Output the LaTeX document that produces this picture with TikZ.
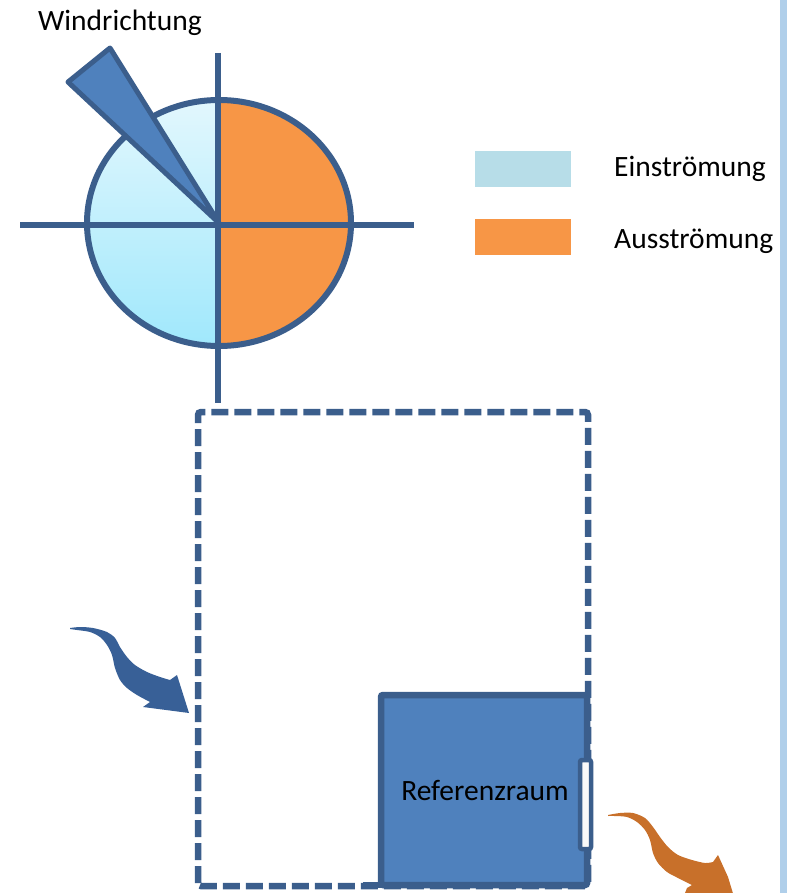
\documentclass[tikz,border=0pt]{standalone}
\usepackage{fontspec}
\setmainfont{Carlito}
\definecolor{dkblue}{RGB}{59,94,140}
\definecolor{midblue}{RGB}{79,129,189}
\definecolor{lgtop}{RGB}{226,247,253}
\definecolor{lgbot}{RGB}{160,232,252}
\definecolor{legblue}{RGB}{183,221,232}
\definecolor{orng}{RGB}{247,150,70}
\definecolor{arrblue}{RGB}{56,96,151}
\definecolor{arrorng}{RGB}{200,112,42}
\definecolor{sidebar}{RGB}{176,207,234}
\tikzset{
  lbl/.style={font=\fontsize{29.5}{34}\selectfont, inner sep=0pt, text=black},
  cross/.style={draw=dkblue, line width=6pt},
  outline/.style={draw=dkblue, line width=6pt},
}
\begin{document}
\begin{tikzpicture}[x=1pt,y=-1pt]
\useasboundingbox (0,0) rectangle (787,893);
% side bar
\fill[sidebar] (780,0) rectangle (787,893);
% compass circle halves
\begin{scope}
\clip (80,90) rectangle (219,360);
\shade[top color=lgtop, bottom color=lgbot] (219,223) ellipse [x radius=132, y radius=123];
\end{scope}
\begin{scope}
\clip (219,90) rectangle (360,360);
\fill[orng] (219,223) ellipse [x radius=132, y radius=123];
\end{scope}
\draw[outline] (219,223) ellipse [x radius=132, y radius=123];
% wind wedge
\filldraw[fill=midblue, draw=dkblue, line width=5pt, line join=round] (110,48) -- (68,82) -- (219,223) -- cycle;
% crosshair
\draw[cross] (218,53) -- (218,403);
\draw[cross] (20,225) -- (414,225);
% title
\node[lbl, anchor=base] (wind) at (120,31) {Windrichtung};
% legend
\fill[legblue] (475,151) rectangle (571,187);
\fill[orng] (475,219) rectangle (571,255);
\node[lbl, anchor=base west] (ein) at (614,177) {Einströmung};
\node[lbl, anchor=base west] (aus) at (614,248) {Ausströmung};
% building dashed outline
\draw[draw=dkblue, line width=6.5pt, dash pattern=on 17pt off 6pt, rounded corners=3pt] (198,886) -- (198,412) -- (588,412) -- (588,886) -- cycle;
% reference room
\filldraw[fill=midblue, draw=dkblue, line width=6.5pt, rounded corners=2pt] (381,695) rectangle (587,885);
\draw[dkblue, line width=6.5pt] (363,885) -- (381,885);
% window
\filldraw[fill=white!95!gray, draw=dkblue, line width=4.5pt, rounded corners=2pt] (580,760) rectangle (591,849);
\node[lbl, anchor=base] (ref) at (485,800) {Referenzraum};
% inflow arrow
\fill[arrblue] plot[smooth, tension=0.5] coordinates {(70,628) (80,627) (93,628) (107,632) (115,638) (120,647) (127,657) (135,665) (147,672) (160,677) (170,680)} -- (177,675) -- (189,713) -- (143,707) -- plot[smooth, tension=0.5] coordinates {(150,702) (137,695) (127,688) (120,680) (115,668) (112,655) (107,645) (100,637) (90,632) (77,630) (70,629)} -- cycle;
% outflow arrow
\fill[arrorng] plot[smooth, tension=0.5] coordinates {(608,815) (620,813) (633,813) (645,818) (653,827) (660,837) (668,847) (678,855) (692,860) (705,863) (713,862)} -- (718,855) -- (728,877) -- (735,900) -- (685,893) -- (687,888) -- plot[smooth, tension=0.5] coordinates {(692,885) (678,878) (667,872) (658,863) (653,853) (650,840) (645,830) (637,822) (627,817) (615,816) (608,816)} -- cycle;
\end{tikzpicture}
\end{document}
